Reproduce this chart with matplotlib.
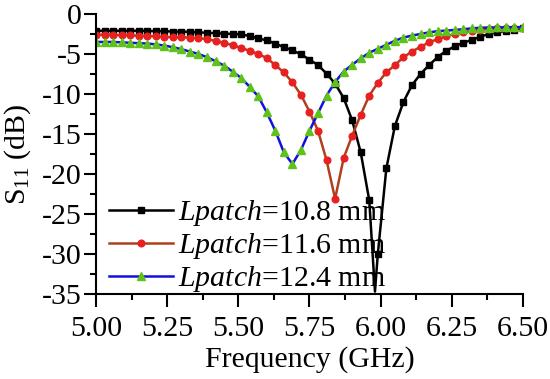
import matplotlib.pyplot as plt
import numpy as np

plt.rcParams["font.family"] = "Liberation Serif"
plt.rcParams["mathtext.fontset"] = "custom"
plt.rcParams["mathtext.rm"] = "Liberation Serif"
plt.rcParams["mathtext.it"] = "Liberation Serif:italic"
plt.rcParams["axes.unicode_minus"] = False

# marker frequencies (GHz), shared by the three curves
freq = [5.00, 5.03, 5.06, 5.09, 5.12, 5.15, 5.18, 5.21, 5.24, 5.27,
        5.30, 5.33, 5.36, 5.39, 5.42, 5.45, 5.48, 5.51, 5.54, 5.57,
        5.60, 5.63, 5.66, 5.69, 5.72, 5.75, 5.78, 5.81, 5.84, 5.87,
        5.90, 5.93, 5.96, 5.99, 6.02, 6.05, 6.08, 6.11, 6.14, 6.17,
        6.20, 6.23, 6.26, 6.29, 6.32, 6.35, 6.38, 6.41, 6.44, 6.47, 6.50]

s11_108 = [-2.1, -2.1, -2.1, -2.1, -2.1, -2.1, -2.1, -2.15, -2.15, -2.2,
           -2.2, -2.25, -2.3, -2.35, -2.4, -2.45, -2.5, -2.55, -2.75, -3.05,
           -3.3, -3.7, -4.15, -4.55, -5.05, -5.7, -6.4, -7.45, -8.7, -10.5,
           -13.3, -17.3, -23.3, -30.0, -19.3, -14.0, -11.0, -8.9, -7.5, -6.4,
           -5.4, -4.6, -4.05, -3.6, -3.25, -2.85, -2.5, -2.3, -2.1, -1.95, -1.8]
# sharp resonance of the 10.8 mm curve falls between two markers
dip_108_f = 5.98
dip_108_db = -34.7

s11_116 = [-2.6, -2.6, -2.62, -2.65, -2.68, -2.72, -2.76, -2.8, -2.85, -2.9,
           -2.9, -2.95, -3.0, -3.15, -3.35, -3.6, -3.9, -4.25, -4.6, -5.0,
           -5.5, -6.4, -7.3, -8.55, -10.1, -12.2, -14.6, -18.3, -23.1, -18.0,
           -15.2, -12.6, -10.2, -8.6, -7.3, -6.4, -5.4, -4.7, -4.1, -3.55,
           -3.15, -2.8, -2.5, -2.3, -2.1, -1.95, -1.85, -1.8, -1.75, -1.72, -1.7]

s11_124 = [-3.5, -3.5, -3.5, -3.55, -3.6, -3.65, -3.7, -3.8, -3.95, -4.15,
           -4.4, -4.7, -5.0, -5.4, -5.9, -6.45, -7.2, -8.0, -9.1, -10.3,
           -12.3, -14.6, -17.3, -18.75, -17.0, -14.6, -12.4, -10.2, -8.5, -7.2,
           -6.35, -5.55, -4.85, -4.35, -3.85, -3.35, -2.95, -2.7, -2.5, -2.3,
           -2.15, -2.08, -2.0, -1.9, -1.8, -1.72, -1.7, -1.68, -1.67, -1.66, -1.65]

labels = ["10.8", "11.6", "12.4"]

FS = 21.5

fig = plt.figure(figsize=(5.5, 3.79), dpi=100)
ax = fig.add_axes([0.1745, 0.2243, 0.7764, 0.7388])

# insert the dip point into the 10.8 mm curve without giving it a marker
idx = int(np.searchsorted(freq, dip_108_f))
f_108 = freq[:idx] + [dip_108_f] + freq[idx:]
y_108 = s11_108[:idx] + [dip_108_db] + s11_108[idx:]
marks_108 = [i for i in range(len(f_108)) if i != idx]

ax.plot(f_108, y_108, color="black", lw=1.8, marker="s", ms=4.2,
        markevery=marks_108, label=r"$Lpatch$=" + labels[0] + " mm")
ax.plot(freq, s11_116, color="#b0401c", lw=1.8, marker="o", ms=4.8,
        mfc="#e82020", mec="#e82020", label=r"$Lpatch$=" + labels[1] + " mm")
ax.plot(freq, s11_124, color="#1010e0", lw=1.8, marker="^", ms=5.2,
        mfc="#5ec21a", mec="#5ec21a", label=r"$Lpatch$=" + labels[2] + " mm")

ax.set_xlim(5.0, 6.5)
ax.set_ylim(-35, 0)
ax.set_xticks(np.arange(5.0, 6.51, 0.25))
ax.set_xticks(np.arange(5.125, 6.5, 0.25), minor=True)
ax.set_yticks(np.arange(-35, 0.1, 5))
ax.set_yticks(np.arange(-32.5, 0, 5), minor=True)
ax.xaxis.set_major_formatter(plt.FormatStrFormatter("%.2f"))

for side in ["top", "right"]:
    ax.spines[side].set_visible(False)
for side in ["left", "bottom"]:
    ax.spines[side].set_linewidth(1.5)
ax.tick_params(which="major", direction="out", length=9, width=1.5,
               labelsize=FS)
ax.tick_params(axis="x", which="major", pad=7)
ax.tick_params(axis="y", which="major", pad=1.5)
ax.tick_params(which="minor", direction="out", length=4.5, width=1.5)

ax.set_xlabel("Frequency (GHz)", fontsize=FS, labelpad=3)
ax.set_ylabel(r"S$_{11}$ (dB)", fontsize=FS, labelpad=6)

ax.legend(loc="lower left", bbox_to_anchor=(0.03, 0.0), frameon=False,
          fontsize=FS, handlelength=2.15, handletextpad=0.17,
          labelspacing=0.1, borderpad=0, borderaxespad=0, numpoints=1)

fig.savefig("out.png", dpi=100)
